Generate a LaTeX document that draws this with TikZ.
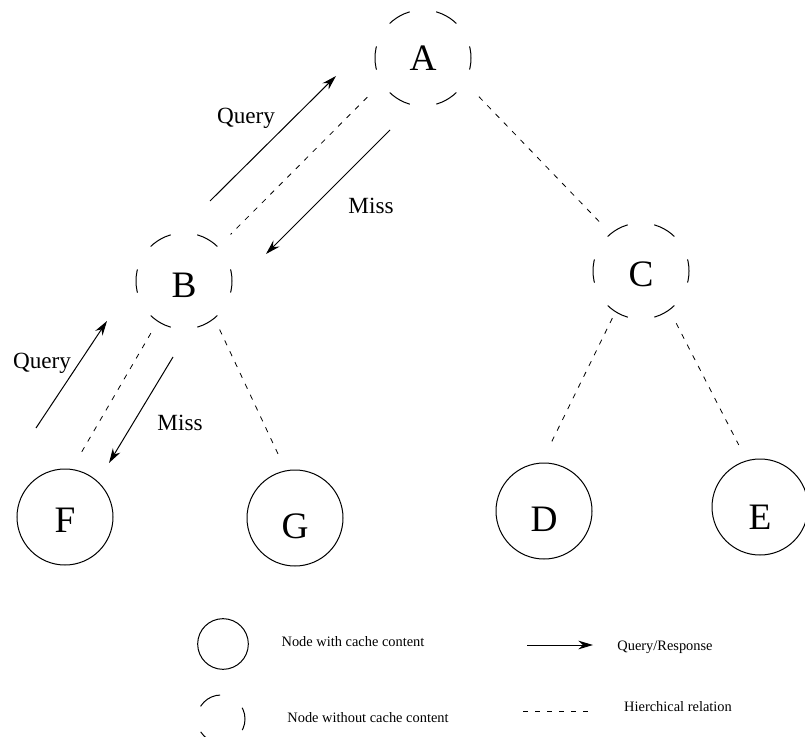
\documentclass[tikz,border=0pt]{standalone}
\usepackage{fontspec}
\setmainfont{Liberation Serif}
\usetikzlibrary{arrows.meta}

\tikzset{every picture/.style={line width=0.75pt}}
\tikzset{
	cached/.style={draw, circle, inner sep=0pt, minimum size=72pt, font=\fontsize{28}{30}\selectfont},
	nocache/.style={cached, dash pattern=on 17.6pt off 20.1pt, dash phase=8.8pt},
	hier/.style={line width=0.6pt, dash pattern=on 4pt off 5pt},
	msg/.style={-{Stealth[length=11pt,width=6.5pt,inset=3.5pt]}},
	lbl/.style={font=\fontsize{17.4}{20}\selectfont},
	keytext/.style={font=\fontsize{10.8}{13}\selectfont}
}

\begin{document}
\begin{tikzpicture}[x=0.75pt,y=0.75pt,yscale=-1,xscale=1]
	%set diagram size: 805 wide, 737 high
	\useasboundingbox (0,0) rectangle (805,737);

	%Shape: Circle (no cache)
	\node[nocache] (a) at (423,58) {A};
	%Shape: Circle (no cache)
	\node[nocache, text height=25pt] (b) at (184,281) {B};
	%Shape: Circle (no cache)
	\node[nocache, text height=24pt] (c) at (641,271) {C};
	%Shape: Circle (cache)
	\node[cached, text height=31pt] (d) at (544,511) {D};
	%Shape: Circle (cache)
	\node[cached, text height=33pt] (e) at (760,507) {E};
	%Shape: Circle (cache)
	\node[cached, text height=23pt] (f) at (65,517) {F};
	%Shape: Circle (cache)
	\node[cached, text height=31pt] (g) at (295,518) {G};

	%Straight Lines (hierarchy)
	\draw[hier, shorten <=15pt, shorten >=13pt] (a.211) -- (b.45);
	\draw[hier, shorten <=15pt, shorten >=10pt] (a.330) -- (c.129);
	\draw[hier, shorten <=10pt, shorten >=15pt] (b.237) -- (f.82);
	\draw[hier, shorten <=9pt, shorten >=9pt] (b.309) -- (g.101);
	\draw[hier, shorten <=5pt, shorten >=13pt] (c.238) -- (d.93);
	\draw[hier, shorten <=11pt, shorten >=13pt] (c.306) -- (e.106);

	%Straight Lines (query / miss)
	\coordinate (q1s) at (210,201);
	\coordinate (q1e) at (336,76);
	\coordinate (m1s) at (390,130);
	\coordinate (m1e) at (266,254);
	\coordinate (q2s) at (36,428);
	\coordinate (q2e) at (107,321);
	\coordinate (m2s) at (173,357);
	\coordinate (m2e) at (109,463);
	\draw[msg] (q1s) -- (q1e);
	\draw[msg] (m1s) -- (m1e);
	\draw[msg] (q2s) -- (q2e);
	\draw[msg] (m2s) -- (m2e);

	% Text Node
	\node[lbl] (q1) at (246,118) {Query};
	% Text Node
	\node[lbl] (m1) at (371,206) {Miss};
	% Text Node
	\node[lbl] (q2) at (42,363) {Query};
	% Text Node
	\node[lbl] (m2) at (180,423) {Miss};

	%Legend
	\node[cached, minimum size=38pt] (key1) at (223,644) {};
	\node[nocache, minimum size=36pt] (key2) at (221,719) {};
	\coordinate (key3s) at (527,645);
	\coordinate (key3e) at (593,645);
	\draw[msg] (key3s) -- (key3e);
	\coordinate (key4s) at (523,711);
	\coordinate (key4e) at (594,711);
	\draw[hier] (key4s) -- (key4e);

	% Text Node
	\node[keytext] (key1txt) at (353,642) {Node with cache content};
	% Text Node
	\node[keytext] (key2txt) at (368,718) {Node without cache content};
	% Text Node
	\node[keytext] (key3txt) at (665,647) {Query/Response};
	% Text Node
	\node[keytext] (key4txt) at (678,707) {Hierchical relation};

\end{tikzpicture}
\end{document}
